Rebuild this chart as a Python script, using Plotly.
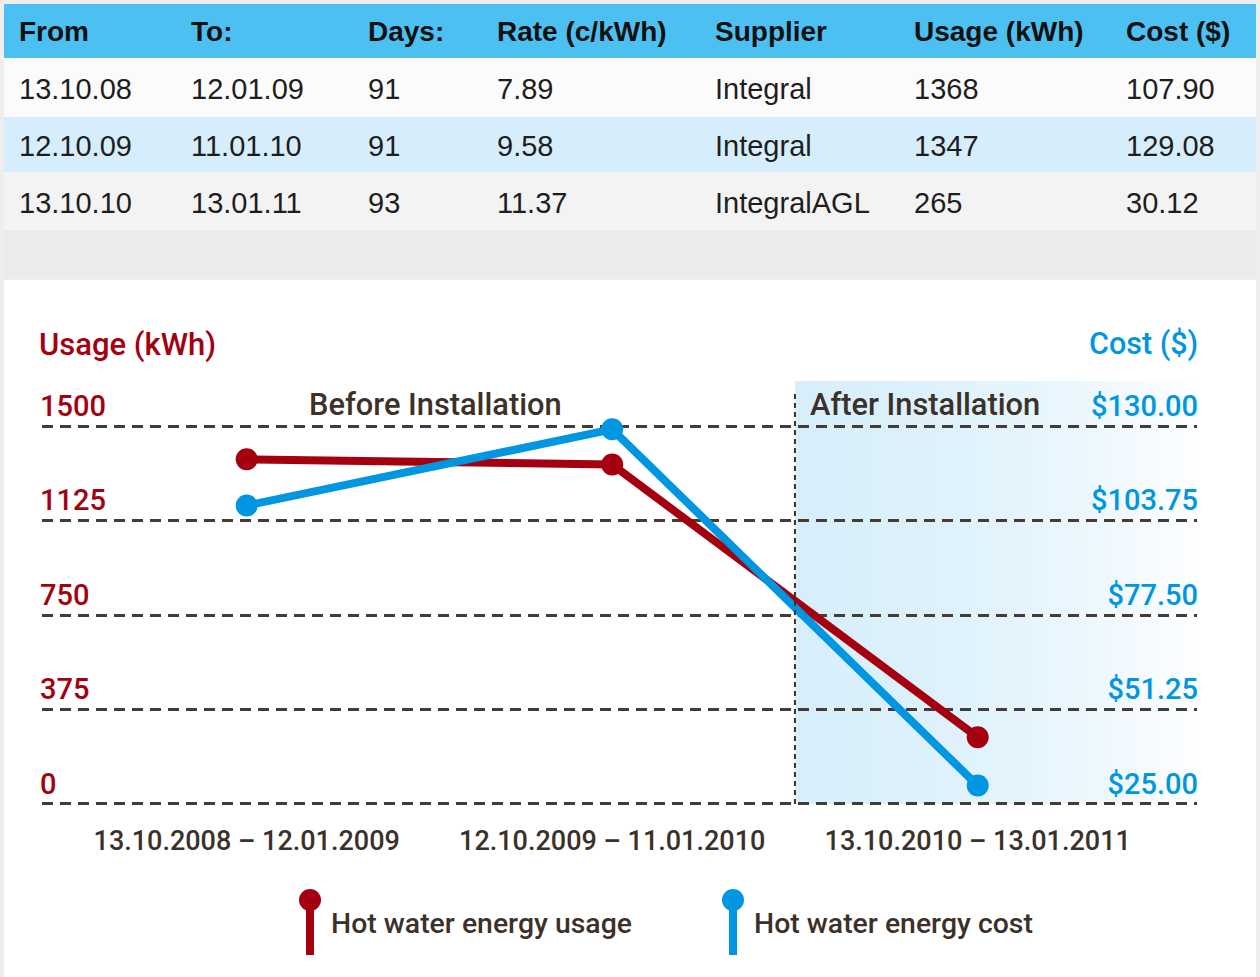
import plotly.graph_objects as go

# ---------------- data ----------------
headers = ["From", "To:", "Days:", "Rate (c/kWh)", "Supplier", "Usage (kWh)", "Cost ($)"]
from_dates = ["13.10.08", "12.10.09", "13.10.10"]
to_dates = ["12.01.09", "11.01.10", "13.01.11"]
days = [91, 91, 93]
rates = [7.89, 9.58, 11.37]
suppliers = ["Integral", "Integral", "IntegralAGL"]
usage = [1368, 1347, 265]
cost = [107.90, 129.08, 30.12]
periods = ["13.10.2008 – 12.01.2009", "12.10.2009 – 11.01.2010", "13.10.2010 – 13.01.2011"]
usage_ticks = [0, 375, 750, 1125, 1500]
cost_ticks = [25.00, 51.25, 77.50, 103.75, 130.00]
series_names = ["Hot water energy usage", "Hot water energy cost"]

# ---------------- style ----------------
W, H = 1260, 977
RED = "#a50010"
BLUE = "#0096e1"
BROWN = "#3c3129"
FONT = "Liberation Sans"
CFONT = "Roboto"


def px(x):
    return x / W


def py(y):
    return 1 - y / H


x_idx = list(range(len(periods)))
x_range = [-0.56, 2.6]
y_top = 1678.6
y_bot = -4
y_range = [y_bot, y_top]
cost_per_kwh = (cost_ticks[-1] - cost_ticks[0]) / (usage_ticks[-1] - usage_ticks[0])
y2_range = [cost_ticks[0] + y_bot * cost_per_kwh, cost_ticks[0] + y_top * cost_per_kwh]
after_start = 1.5

fig = go.Figure()

fig.add_trace(go.Scatter(
    x=x_idx, y=usage, mode="lines+markers", name=series_names[0],
    line=dict(color=RED, width=8), marker=dict(color=RED, size=22),
    yaxis="y", cliponaxis=False, hoverinfo="skip", showlegend=False))
fig.add_trace(go.Scatter(
    x=x_idx, y=cost, mode="lines+markers", name=series_names[1],
    line=dict(color=BLUE, width=8), marker=dict(color=BLUE, size=22),
    yaxis="y2", cliponaxis=False, hoverinfo="skip", showlegend=False))

shapes = []
# page backgrounds
shapes.append(dict(type="rect", xref="paper", yref="paper", x0=0, x1=1, y0=0, y1=1,
                   fillcolor="#eeeeee", line_width=0, layer="below"))
shapes.append(dict(type="rect", xref="paper", yref="paper", x0=px(4), x1=px(1256), y0=py(117), y1=py(58),
                   fillcolor="#fbfbfb", line_width=0, layer="below"))
shapes.append(dict(type="rect", xref="paper", yref="paper", x0=px(4), x1=px(1256), y0=py(230), y1=py(172),
                   fillcolor="#f3f3f3", line_width=0, layer="below"))
shapes.append(dict(type="rect", xref="paper", yref="paper", x0=px(4), x1=px(1256), y0=py(278), y1=py(230),
                   fillcolor="#ebebeb", line_width=0, layer="below"))
shapes.append(dict(type="rect", xref="paper", yref="paper", x0=px(4), x1=px(1256), y0=py(4), y1=py(58),
                   fillcolor="#4dc0f2", line_width=0, layer="below"))
shapes.append(dict(type="rect", xref="paper", yref="paper", x0=px(4), x1=px(1256), y0=py(172), y1=py(117),
                   fillcolor="#d6eefb", line_width=0, layer="below"))
shapes.append(dict(type="rect", xref="paper", yref="paper", x0=px(4), x1=px(1256), y0=py(977), y1=py(280),
                   fillcolor="#ffffff", line_width=0, layer="below"))

# "after installation" gradient band (strips)
n_strips = 50
c0 = (216, 239, 251)
x_band_end = x_range[1] + 0.03
for i in range(n_strips):
    t0 = i / n_strips
    t1 = (i + 1) / n_strips
    tm = (t0 + t1) / 2
    f = tm ** 1.8
    col = tuple(round(c + (255 - c) * f) for c in c0)
    xa = after_start + (x_band_end - after_start) * t0
    xb = after_start + (x_band_end - after_start) * t1 + 0.002
    shapes.append(dict(type="rect", xref="x", yref="y", x0=xa, x1=xb, y0=0, y1=y_top,
                       fillcolor="rgb(%d,%d,%d)" % col, line_width=0, layer="below"))

# divider
shapes.append(dict(type="line", xref="x", yref="y", x0=after_start, x1=after_start, y0=0, y1=1631,
                   line=dict(color=BROWN, width=2, dash="5px,4px"), layer="above"))

# legend icons
for cx, col in [(310, RED), (733, BLUE)]:
    shapes.append(dict(type="rect", xref="paper", yref="paper", x0=px(cx - 4), x1=px(cx + 4),
                       y0=py(955), y1=py(902), fillcolor=col, line_width=0))
    shapes.append(dict(type="circle", xref="paper", yref="paper", x0=px(cx - 11), x1=px(cx + 11),
                       y0=py(911), y1=py(889), fillcolor=col, line_width=0))

annotations = []
col_x = [17, 189, 366, 495, 713, 912, 1124]
for h, cx in zip(headers, col_x):
    annotations.append(dict(text="<b>%s</b>" % h, x=px(cx), y=py(32), xref="paper", yref="paper",
                            xanchor="left", yanchor="middle", showarrow=False,
                            font=dict(family=FONT, size=28, color="#111111")))
row_y = [89, 146, 203]
rows = list(zip(from_dates, to_dates, days, rates, suppliers, usage, cost))
for r, ry in zip(rows, row_y):
    vals = [r[0], r[1], str(r[2]), "%.2f" % r[3], r[4], str(r[5]), "%.2f" % r[6]]
    for v, cx in zip(vals, col_x):
        annotations.append(dict(text=v, x=px(cx), y=py(ry), xref="paper", yref="paper",
                                xanchor="left", yanchor="middle", showarrow=False,
                                font=dict(family=FONT, size=29, color="#1e1e1e")))

annotations += [
    dict(text="Usage (kWh)", x=px(37), y=py(344), xref="paper", yref="paper", xanchor="left",
         yanchor="middle", showarrow=False, font=dict(family=CFONT, size=31, color=RED, weight=500)),
    dict(text="Cost ($)", x=px(1200), y=py(344), xref="paper", yref="paper", xanchor="right",
         yanchor="middle", showarrow=False, font=dict(family=CFONT, size=30.5, color=BLUE, weight=500)),
    dict(text="Before Installation", x=px(435), y=py(405), xref="paper", yref="paper", xanchor="center",
         yanchor="middle", showarrow=False, font=dict(family=CFONT, size=30.8, color=BROWN, weight=500)),
    dict(text="After Installation", x=px(808), y=py(405), xref="paper", yref="paper", xanchor="left",
         yanchor="middle", showarrow=False, font=dict(family=CFONT, size=30.8, color=BROWN, weight=500)),
    dict(text=series_names[0], x=px(329), y=py(923), xref="paper", yref="paper", xanchor="left",
         yanchor="middle", showarrow=False, font=dict(family=CFONT, size=28.4, color=BROWN, weight=500)),
    dict(text=series_names[1], x=px(752), y=py(923), xref="paper", yref="paper", xanchor="left",
         yanchor="middle", showarrow=False, font=dict(family=CFONT, size=28.4, color=BROWN, weight=500)),
]

fig.update_layout(
    width=W, height=H, margin=dict(l=0, r=0, t=0, b=0),
    paper_bgcolor="#eeeeee", plot_bgcolor="rgba(0,0,0,0)",
    showlegend=False, shapes=shapes, annotations=annotations,
    xaxis=dict(domain=[px(42), px(1197)], range=x_range, tickvals=x_idx, ticktext=periods,
               showgrid=False, zeroline=False, showline=False, ticks="outside", ticklen=12,
               tickcolor="rgba(0,0,0,0)", tickfont=dict(family=CFONT, size=27, color=BROWN, weight=500),
               fixedrange=True),
    yaxis=dict(domain=[py(805), py(381)], range=y_range, tickvals=usage_ticks,
               ticktext=[str(v) for v in usage_ticks], ticklabelposition="inside top",
               ticklabelstandoff=-5,
               showgrid=True, gridcolor="#463c34", gridwidth=3, griddash="11px,7px",
               zeroline=False, showline=False, ticks="",
               tickfont=dict(family=CFONT, size=29, color=RED, weight=500), fixedrange=True),
    yaxis2=dict(domain=[py(805), py(381)], range=y2_range, overlaying="y", side="right",
                tickvals=cost_ticks, ticktext=["$%.2f" % v for v in cost_ticks],
                ticklabelposition="inside top", ticklabelstandoff=-4,
                showgrid=False, zeroline=False, showline=False,
                ticks="", tickfont=dict(family=CFONT, size=29, color=BLUE, weight=500), fixedrange=True),
)

fig.write_html("out.html", config={"displayModeBar": False},
               post_script="document.body.style.margin='0';")
